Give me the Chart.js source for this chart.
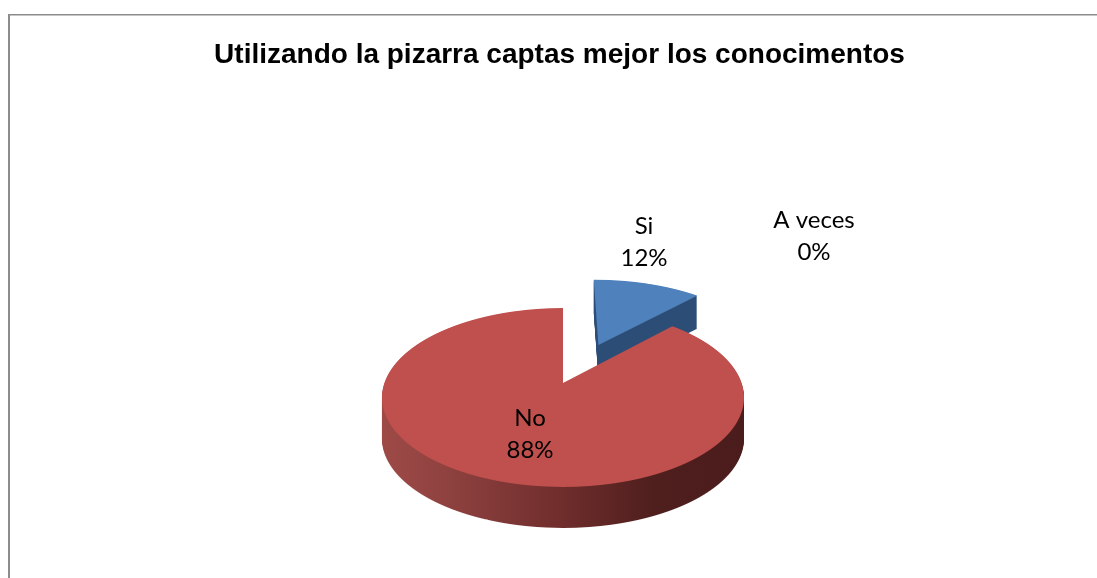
<!DOCTYPE html>
<html>
<head>
<meta charset="utf-8">
<style>html,body{margin:0;padding:0;background:#fff;overflow:hidden}canvas{display:block}</style>
<script src="https://cdn.jsdelivr.net/npm/chart.js@4"></script>
</head>
<body>
<div style="width:1097px;height:578px;position:relative"><canvas id="c"></canvas></div>
<script>
const titleText = 'Utilizando la pizarra captas mejor los conocimentos';
const categories = ['Si', 'No', 'A veces'];
const seriesValues = [12, 88, 0];

const topColors = ['#4F81BD', '#C0504D', '#9BBB59'];
const explodeRatio = [0.515, 0, 0];
const explodeTurn = 0.05;
// Perspective of the tilted pie: apex position, scale and foreshortening
const view = {cx: 563, cy: 383, a: 87.1, b: 178.6, k: -0.162};
const depth = [33, 41, 0];
const labelPlace = [[644, 226], [530, 418], [814, 220]];
const labelGap = 32;

function warpDraw(target, el, chart, explode) {
  const R = el.outerRadius, {cx, cy, a, b, k} = view;
  const mid = (el.startAngle + el.endAngle) / 2 + explodeTurn;
  const ox = Math.cos(mid) * explode * R, oy = Math.sin(mid) * explode * R;
  for (let y = cy - 115; y < cy + 115; y++) {
    const d = y - cy;
    const v1 = d / (a - k * d), v2 = (d + 1) / (a - k * (d + 1));
    const vm = (v1 + v2) / 2;
    const sy = 1 / (R * (v2 - v1));
    const sx = b / (R * (1 + k * vm));
    target.save();
    target.setTransform(1, 0, 0, 1, 0, 0);
    target.beginPath();
    target.rect(0, y, chart.width, 1);
    target.clip();
    target.setTransform(sx, 0, 0, sy, cx - sx * el.x, y - sy * (el.y + R * v1));
    target.translate(ox, oy);
    el.draw(target, chart.chartArea);
    target.restore();
  }
}

function layer(chart) {
  const cv = document.createElement('canvas');
  cv.width = chart.width; cv.height = chart.height;
  return cv;
}

const pie3d = {
  id: 'pie3d',
  beforeDraw(chart) {
    const ctx = chart.ctx;
    ctx.save();
    ctx.fillStyle = '#8c8c8c';
    ctx.fillRect(8, 14, 2, chart.height - 14);
    ctx.fillRect(8, 14, chart.width - 8, 1.5);
    ctx.restore();
  },
  beforeDatasetsDraw(chart) {
    const ctx = chart.ctx;
    const arcs = chart.getDatasetMeta(0).data;
    arcs.forEach((el, i) => {
      if (!el.circumference) return;
      const top = layer(chart);
      warpDraw(top.getContext('2d'), el, chart, explodeRatio[i]);
      const side = layer(chart), s = side.getContext('2d');
      for (let dy = depth[i]; dy >= 1; dy--) s.drawImage(top, 0, dy);
      s.globalCompositeOperation = 'source-in';
      if (i === 1) {
        const g = s.createLinearGradient(381, 0, 743, 0);
        g.addColorStop(0, '#9e4a47');
        g.addColorStop(0.18, '#8f4240');
        g.addColorStop(0.5, '#6f2d2c');
        g.addColorStop(0.75, '#4f1f1e');
        g.addColorStop(1, '#4a1c1b');
        s.fillStyle = g;
      } else {
        s.fillStyle = '#2C4D75';
      }
      s.fillRect(0, 0, chart.width, chart.height);
      ctx.drawImage(side, 0, 0);
      ctx.drawImage(top, 0, 0);
    });
    return false;
  },
  afterDraw(chart) {
    const ctx = chart.ctx;
    const total = seriesValues.reduce((p, q) => p + q, 0);
    ctx.save();
    ctx.fillStyle = '#000';
    ctx.font = '24px Lato';
    ctx.textAlign = 'center';
    ctx.textBaseline = 'middle';
    categories.forEach((name, i) => {
      const [x, y] = labelPlace[i];
      ctx.fillText(name, x, y);
      ctx.fillText(Math.round(seriesValues[i] / total * 100) + '%', x, y + labelGap);
    });
    ctx.restore();
  }
};

new Chart(document.getElementById('c'), {
  type: 'pie',
  data: {
    labels: categories,
    datasets: [{
      data: seriesValues,
      backgroundColor: topColors,
      borderWidth: 0,
      hoverOffset: 0
    }]
  },
  options: {
    responsive: true,
    maintainAspectRatio: false,
    devicePixelRatio: 1,
    animation: false,
    events: [],
    layout: {padding: {left: 22}},
    plugins: {
      legend: {display: false},
      tooltip: {enabled: false},
      title: {
        display: true,
        text: titleText,
        color: '#000',
        font: {family: '"Liberation Sans"', size: 28, weight: 'bold'},
        padding: {top: 38, bottom: 10}
      }
    }
  },
  plugins: [pie3d]
});
</script>
</body>
</html>
